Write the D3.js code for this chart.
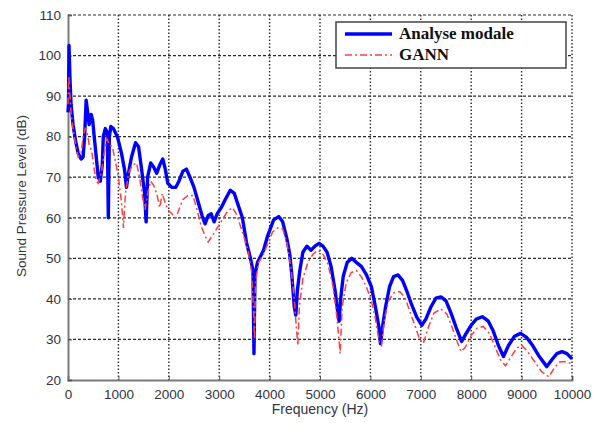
<!DOCTYPE html>
<html><head><meta charset="utf-8">
<script src="https://cdn.jsdelivr.net/npm/d3@7"></script>
<style>body{margin:0;background:#fff}svg{display:block}</style>
</head><body>
<svg id="c" width="597" height="423"></svg>
<script>
const xTicks = [0,1000,2000,3000,4000,5000,6000,7000,8000,9000,10000];
const yTicks = [20,30,40,50,60,70,80,90,100,110];
const seriesNames = ["Analyse modale","GANN"];
const modalData = [[0,86],[10,88],[20,102.5],[40,94],[60,88],[100,83],[150,79],[200,76],[260,74.5],[300,75],[330,80],[360,89],[390,86],[420,83],[460,85.5],[490,84],[520,80],[560,75],[600,70],[640,69],[680,73],[700,80],[740,82],[780,81],[800,60],[820,80],[850,82.5],[900,82],[980,80],[1060,76],[1120,72],[1160,67.5],[1200,71],[1260,75],[1340,78.5],[1400,77.5],[1460,72],[1520,66],[1550,59],[1580,70],[1640,73.5],[1700,72.5],[1760,71],[1820,73],[1880,74.5],[1930,72],[1980,68.5],[2060,67.5],[2140,67.5],[2200,69],[2280,71.5],[2350,72],[2420,70],[2500,67.5],[2580,64],[2660,60.5],[2720,58.5],[2780,60.5],[2840,61],[2900,59],[2960,61],[3040,62.5],[3120,64.5],[3220,66.8],[3300,66],[3380,63],[3460,60],[3540,54],[3620,50],[3670,47],[3690,26.5],[3710,46],[3760,49],[3820,50.5],[3880,52],[3960,55.5],[4080,59.5],[4180,60.3],[4260,59],[4340,55],[4400,51],[4440,46],[4490,38],[4520,36],[4550,42],[4600,47],[4660,51.5],[4740,53],[4820,52],[4900,53],[4980,53.7],[5060,53],[5140,51.5],[5220,48],[5300,42],[5360,36],[5380,34.5],[5410,40],[5460,45.5],[5540,49],[5630,50],[5720,49],[5820,48],[5920,46],[6020,43],[6100,38],[6170,33],[6200,29],[6240,33],[6300,38],[6380,43],[6460,45.5],[6550,45.9],[6640,44.5],[6720,42],[6820,38.5],[6920,35.5],[7020,33.5],[7100,35],[7200,38],[7300,40.2],[7400,40.5],[7500,39.5],[7600,36.5],[7700,33],[7810,29.5],[7900,31.5],[8000,33.5],[8100,35],[8220,35.6],[8340,34.5],[8440,32],[8540,28.5],[8640,25.8],[8740,28.5],[8860,30.8],[8980,31.5],[9100,30.5],[9220,28.5],[9340,26],[9500,23.3],[9600,25],[9700,26.5],[9800,27],[9900,26.5],[10000,25.2]];
const gannData = [[0,88],[15,95],[30,92],[60,86],[100,82],[150,78],[200,75],[260,76],[300,80],[340,82],[380,81],[420,78],[470,76.5],[520,72],[560,69],[600,68.5],[660,71],[720,76],[770,79.5],[820,78],[880,77.5],[940,74],[1000,70],[1060,64],[1100,57.5],[1140,66],[1200,71],[1280,73],[1360,73.5],[1420,70],[1480,65],[1530,62],[1580,66],[1640,69],[1700,68],[1760,66],[1820,62.5],[1870,66],[1920,64],[1980,62],[2060,61],[2140,60],[2200,62],[2280,64.5],[2380,65.5],[2480,65.5],[2560,62],[2640,58],[2720,55.5],[2780,54],[2860,55.5],[2960,57.5],[3060,59.5],[3160,61.5],[3260,62.5],[3340,61],[3420,58],[3500,55],[3580,51.5],[3640,47],[3680,38],[3700,30],[3720,44],[3780,49],[3860,50.5],[3960,53.5],[4060,56.5],[4160,57.5],[4260,57.2],[4340,54],[4420,48],[4490,40],[4530,33],[4560,28.5],[4590,38],[4660,45],[4760,49],[4860,51],[4960,52],[5060,51],[5160,48.5],[5260,43],[5340,35],[5400,26.5],[5440,38],[5520,44],[5620,46.5],[5720,47],[5820,45.5],[5920,43],[6020,39.5],[6100,35],[6180,29],[6220,28.5],[6280,35],[6360,39.5],[6460,41.5],[6580,41.8],[6680,40.5],[6780,37],[6880,33.5],[6980,30],[7050,29],[7150,33],[7260,36.5],[7400,37.5],[7520,36.2],[7620,33],[7720,29.5],[7800,27],[7880,28],[8000,31],[8120,32.8],[8240,33.2],[8360,31.5],[8480,28],[8580,25],[8680,23.5],[8780,25.5],[8900,27.8],[9000,28.6],[9120,27],[9260,24.5],[9400,22],[9540,20.8],[9650,23],[9760,24.5],[9860,24.5],[10000,24]];

const svg = d3.select("#c");
const L = 68, R = 572, T = 15, B = 380;
const x = d3.scaleLinear().domain([0,10000]).range([L,R]);
const y = d3.scaleLinear().domain([20,110]).range([B,T]);
const txtColor = "#33333f";

// grid
const g = svg.append("g");
g.selectAll("line.h").data(yTicks.filter(v=>v>20)).join("line")
  .attr("x1",L).attr("x2",R).attr("y1",d=>y(d)).attr("y2",d=>y(d))
  .attr("stroke","#2a2a2a").attr("stroke-width",1.2).attr("stroke-dasharray","3,2");
g.selectAll("line.v").data(xTicks.filter(v=>v>0)).join("line")
  .attr("y1",T).attr("y2",B).attr("x1",d=>x(d)).attr("x2",d=>x(d))
  .attr("stroke","#2a2a2a").attr("stroke-width",1.4).attr("stroke-dasharray","1.5,2");

// axes
const xAxis = d3.axisBottom(x).tickValues(xTicks).tickSize(-4).tickPadding(9).tickFormat(d3.format("d"));
const yAxis = d3.axisLeft(y).tickValues(yTicks).tickSize(-4).tickPadding(7).tickFormat(d3.format("d"));
const gx = svg.append("g").attr("transform",`translate(0,${B})`).call(xAxis);
const gy = svg.append("g").attr("transform",`translate(${L},0)`).call(yAxis);
[gx,gy].forEach(a=>{
  a.select(".domain").attr("stroke","#7a7a7a").attr("stroke-width",2);
  a.selectAll(".tick line").attr("stroke","#555");
  a.selectAll(".tick text").attr("fill",txtColor).style("font-family","'Liberation Sans',Arial,sans-serif").style("font-size","13.5px");
});

// lines
const line = d3.line().x(d=>x(d[0])).y(d=>y(d[1]));
svg.append("path").datum(modalData).attr("d",line).attr("fill","none")
  .attr("stroke","#0000ff").attr("stroke-width",3.4).attr("stroke-linejoin","round");
svg.append("path").datum(gannData).attr("d",line).attr("fill","none")
  .attr("stroke","#ff4040").attr("stroke-width",1.5).attr("stroke-dasharray","7,3,2,3");

// axis titles
svg.append("text").attr("x",320).attr("y",414).attr("text-anchor","middle")
  .attr("fill",txtColor).style("font-family","'Liberation Sans',Arial,sans-serif").style("font-size","14px")
  .text("Frequency (Hz)");
svg.append("text").attr("transform","translate(26,196) rotate(-90)").attr("text-anchor","middle")
  .attr("fill",txtColor).style("font-family","'Liberation Sans',Arial,sans-serif").style("font-size","13.5px")
  .text("Sound Pressure Level (dB)");

// legend
const lg = svg.append("g");
lg.append("rect").attr("x",336).attr("y",22).attr("width",230).attr("height",46)
  .attr("fill","#fff").attr("stroke","#444").attr("stroke-width",1.5);
lg.append("line").attr("x1",345).attr("x2",392).attr("y1",34).attr("y2",34)
  .attr("stroke","#0000ff").attr("stroke-width",3.4);
lg.append("line").attr("x1",345).attr("x2",392).attr("y1",55).attr("y2",55)
  .attr("stroke","#ff4040").attr("stroke-width",1.5).attr("stroke-dasharray","7,3,2,3");
lg.selectAll("text").data(seriesNames).join("text")
  .attr("x",399).attr("y",(d,i)=>39+i*21)
  .style("font-family","'Liberation Serif','Times New Roman',serif").style("font-weight","bold").style("font-size","17px")
  .attr("fill","#111").text(d=>d);
</script>
</body></html>
